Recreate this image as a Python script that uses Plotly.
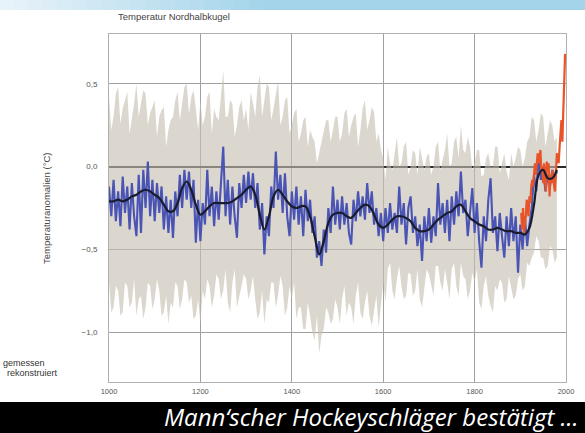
import plotly.graph_objects as go

# ---------------- data ----------------
blue_years = list(range(1000, 1981, 5))
blue_vals = [
    -0.12, -0.30, -0.08, -0.33, -0.15, -0.36, -0.06, -0.28, -0.12, -0.38, -0.10, -0.30, -0.42, -0.05, -0.40, -0.02, -0.25, 0.03, -0.30, -0.08,
    -0.33, -0.10, -0.28, -0.12, -0.38, -0.18, -0.40, -0.20, -0.43, -0.15, -0.30, -0.05, -0.25, -0.02, -0.20, -0.03, -0.25, -0.08, -0.46, -0.20,
    -0.45, -0.22, -0.35, -0.02, -0.30, -0.12, -0.36, -0.15, -0.32, -0.10, 0.12, -0.30, -0.08, -0.35, -0.12, -0.30, -0.43, -0.10, -0.25, -0.05,
    -0.22, -0.03, -0.20, -0.04, -0.25, -0.10, -0.38, -0.22, -0.53, -0.30, -0.42, -0.12, -0.25, 0.09, -0.20, -0.05, -0.28, -0.04, -0.30, -0.42,
    -0.15, -0.32, -0.12, -0.35, -0.18, -0.42, -0.14, -0.33, -0.20, -0.40, -0.30, -0.55, -0.45, -0.60, -0.38, -0.52, -0.25, -0.40, -0.12, -0.35,
    -0.20, -0.38, -0.18, -0.35, -0.22, -0.40, -0.47, -0.20, -0.33, -0.15, -0.30, -0.18, -0.32, -0.10, -0.28, -0.15, -0.35, -0.25, -0.42, -0.28,
    -0.45, -0.25, -0.40, -0.22, -0.38, -0.28, -0.40, -0.12, -0.35, -0.22, -0.47, -0.25, -0.18, -0.40, -0.30, -0.48, -0.35, -0.57, -0.30, -0.45,
    -0.25, -0.46, -0.30, -0.42, -0.10, -0.35, -0.22, -0.40, -0.20, -0.45, -0.18, -0.35, -0.15, -0.30, -0.03, -0.28, -0.20, -0.42, -0.25, -0.13,
    -0.40, -0.22, -0.45, -0.61, -0.30, -0.45, -0.20, -0.07, -0.40, -0.30, -0.51, -0.28, -0.42, -0.55, -0.30, -0.48, -0.25, -0.45, -0.30, -0.64,
    -0.35, -0.50, -0.30, -0.48, -0.35, -0.25, -0.05, -0.15, 0.05, -0.08, -0.02, -0.15, -0.05, -0.12, -0.02, -0.08, -0.03,
]

smooth_years = list(range(1000, 1981, 10))
smooth_vals = [
    -0.21, -0.21, -0.20, -0.21, -0.20, -0.18, -0.17, -0.15, -0.14, -0.15,
    -0.17, -0.19, -0.23, -0.27, -0.27, -0.22, -0.13, -0.09, -0.14, -0.23,
    -0.29, -0.27, -0.24, -0.22, -0.22, -0.22, -0.22, -0.21, -0.19, -0.17,
    -0.14, -0.12, -0.17, -0.29, -0.38, -0.30, -0.18, -0.14, -0.17, -0.21,
    -0.24, -0.25, -0.24, -0.24, -0.30, -0.42, -0.53, -0.45, -0.34, -0.29,
    -0.28, -0.28, -0.30, -0.31, -0.28, -0.25, -0.23, -0.24, -0.29, -0.35,
    -0.37, -0.35, -0.32, -0.30, -0.30, -0.31, -0.33, -0.37, -0.39, -0.39,
    -0.38, -0.35, -0.32, -0.30, -0.28, -0.27, -0.24, -0.23, -0.27, -0.31,
    -0.33, -0.35, -0.36, -0.38, -0.38, -0.37, -0.38, -0.39, -0.39, -0.40,
    -0.40, -0.41, -0.37, -0.23, -0.05, -0.02, -0.07, -0.07, -0.02,
]

band_years = list(range(1000, 1981, 5))
band_upper = [
    0.42, 0.22, 0.30, 0.44, 0.48, 0.26, 0.35, 0.40, 0.45, 0.20, 0.28, 0.38, 0.50, 0.30, 0.38, 0.46, 0.44, 0.25, 0.32, 0.36,
    0.40, 0.18, 0.30, 0.34, 0.36, 0.12, 0.22, 0.28, 0.30, 0.40, 0.45, 0.28, 0.38, 0.48, 0.50, 0.32, 0.42, 0.46, 0.35, 0.22,
    0.40, 0.25, 0.30, 0.42, 0.45, 0.20, 0.35, 0.30, 0.28, 0.45, 0.58, 0.30, 0.30, 0.40, 0.38, 0.18, 0.25, 0.36, 0.40, 0.28,
    0.35, 0.22, 0.45, 0.38, 0.30, 0.48, 0.55, 0.30, 0.40, 0.50, 0.48, 0.28, 0.35, 0.45, 0.52, 0.25, 0.30, 0.40, 0.42, 0.20,
    0.25, 0.32, 0.35, 0.15, 0.20, 0.28, 0.30, 0.12, 0.22, 0.18, 0.15, 0.02, 0.08, 0.15, 0.20, 0.28, 0.28, 0.15, 0.22, 0.30,
    0.30, 0.15, 0.20, 0.32, 0.35, 0.18, 0.25, 0.30, 0.32, 0.12, 0.22, 0.35, 0.40, 0.22, 0.28, 0.36, 0.33, 0.15, 0.20, 0.10,
    0.05, -0.08, 0.12, 0.02, -0.02, 0.10, 0.18, 0.00, 0.02, 0.12, 0.15, -0.05, 0.00, 0.10, 0.08, -0.05, 0.12, 0.05, -0.02, 0.06,
    0.08, -0.05, 0.00, 0.12, 0.15, -0.02, 0.05, 0.10, 0.20, 0.00, 0.02, 0.15, 0.18, 0.05, 0.25, 0.10, 0.08, 0.18, 0.12, -0.02,
    0.02, 0.10, 0.10, -0.06, -0.05, 0.05, 0.08, 0.00, 0.00, 0.12, 0.12, -0.04, 0.02, 0.08, -0.03, -0.08, 0.08, 0.00, 0.05, 0.12,
    0.10, 0.00, 0.05, 0.15, 0.18, 0.30, 0.28, 0.15, 0.22, 0.32, 0.30, 0.12, 0.20, 0.28, 0.25, 0.15, 0.18,
]
band_lower = [
    -0.70, -0.88, -0.85, -0.72, -0.75, -0.90, -0.88, -0.70, -0.72, -0.85, -0.82, -0.68, -0.90, -0.80, -0.78, -0.92, -0.85, -0.70, -0.72, -0.86,
    -0.80, -0.68, -0.75, -0.90, -0.88, -0.78, -0.95, -0.82, -0.85, -0.70, -0.72, -0.86, -0.80, -0.68, -0.70, -0.82, -0.78, -0.92, -0.90, -0.80,
    -0.95, -0.75, -0.80, -0.68, -0.72, -0.85, -0.78, -0.65, -0.68, -0.80, -0.75, -0.62, -0.82, -0.88, -0.70, -0.62, -0.85, -0.78, -0.72, -0.65,
    -0.68, -0.80, -0.75, -0.66, -0.80, -0.92, -0.88, -0.75, -0.95, -0.80, -0.82, -0.70, -0.70, -0.85, -0.78, -0.66, -0.72, -0.90, -0.85, -0.72,
    -0.80, -0.70, -0.92, -0.85, -0.85, -0.98, -0.98, -0.82, -0.90, -1.00, -1.05, -0.90, -1.13, -1.02, -0.98, -0.85, -0.88, -0.95, -0.92, -0.80,
    -0.85, -0.95, -0.80, -0.72, -0.90, -0.82, -0.85, -0.95, -0.78, -0.70, -0.88, -0.92, -0.82, -0.75, -0.90, -0.96, -0.86, -0.78, -0.97, -0.85,
    -0.70, -0.82, -0.62, -0.58, -0.75, -0.80, -0.68, -0.60, -0.72, -0.80, -0.78, -0.64, -0.65, -0.78, -0.75, -0.62, -0.80, -0.85, -0.72, -0.62,
    -0.65, -0.72, -0.78, -0.60, -0.60, -0.70, -0.75, -0.62, -0.70, -0.80, -0.62, -0.58, -0.72, -0.78, -0.58, -0.66, -0.68, -0.80, -0.75, -0.64,
    -0.70, -0.62, -0.82, -0.86, -0.72, -0.66, -0.78, -0.84, -0.88, -0.72, -0.75, -0.68, -0.70, -0.82, -0.80, -0.66, -0.72, -0.80, -0.78, -0.68,
    -0.65, -0.75, -0.72, -0.58, -0.60, -0.55, -0.52, -0.42, -0.45, -0.55, -0.55, -0.62, -0.60, -0.48, -0.50, -0.58, -0.55,
]

red_years = list(range(1902, 1999, 2))
red_vals = [
    -0.28, -0.38, -0.25, -0.40, -0.35, -0.30, -0.20, -0.28, -0.30, -0.18,
    -0.22, -0.12, -0.08, -0.12, -0.02, 0.02, -0.05, 0.05, 0.08, 0.02,
    0.05, 0.10, -0.02, 0.00, -0.10, 0.02, -0.08, -0.15, 0.03, -0.02,
    0.02, -0.18, -0.05, -0.10, -0.02, -0.08, -0.12, -0.15, 0.02, 0.08,
    0.05, 0.02, 0.12, 0.22, 0.28, 0.15, 0.30, 0.45, 0.68,
]

x_ticks = [1000, 1200, 1400, 1600, 1800, 2000]
x_tick_labels = ["1000", "1200", "1400", "1600", "1800", "2000"]
y_ticks = [0.5, 0.0, -0.5, -1.0]
y_tick_labels = ["0,5", "0,0", "\u22120,5", "\u22121,0"]

assert len(blue_vals) == len(blue_years)
assert len(band_upper) == len(band_years) and len(band_lower) == len(band_years)
assert len(smooth_vals) == len(smooth_years) and len(red_vals) == len(red_years)

# ---------------- figure ----------------
W, H = 585, 433
ML, MR, MT, MB = 109, 19, 34, 51
PW, PH = W - ML - MR, H - MT - MB


def px(xp):
    return (xp - ML) / PW


def py(yp):
    return (H - MB - yp) / PH


fig = go.Figure()

fig.add_trace(go.Scatter(
    x=band_years + band_years[::-1],
    y=band_upper + band_lower[::-1],
    fill="toself", fillcolor="rgba(198,190,176,0.62)",
    line=dict(width=0), mode="lines", hoverinfo="skip", showlegend=False,
))
fig.add_trace(go.Scatter(
    x=blue_years, y=blue_vals, mode="lines",
    line=dict(color="rgb(74,84,180)", width=2.1), showlegend=False,
))
fig.add_trace(go.Scatter(
    x=red_years, y=red_vals, mode="lines",
    line=dict(color="rgb(232,84,40)", width=2.2), showlegend=False,
))
fig.add_trace(go.Scatter(
    x=smooth_years, y=smooth_vals, mode="lines",
    line=dict(color="rgb(25,28,45)", width=2.2, shape="spline"), showlegend=False,
))

shapes = []
# top gradient band (decoration)
n = 40
for i in range(n):
    t = i / (n - 1)
    k = min(1.0, t * 2.2)
    r = int(232 - (232 - 164) * k)
    g = int(243 - (243 - 212) * k)
    b = int(249 - (249 - 234) * k)
    shapes.append(dict(type="rect", xref="paper", yref="paper",
                       x0=px(-2 + i * 590 / n), x1=px(-2 + (i + 1) * 590 / n + 1),
                       y0=py(10), y1=py(-2), line=dict(width=0),
                       fillcolor=f"rgb({r},{g},{b})", layer="above"))
# bottom black band
shapes.append(dict(type="rect", xref="paper", yref="paper",
                   x0=px(-2), x1=px(W + 2), y0=py(H + 2), y1=py(402),
                   line=dict(width=0), fillcolor="black", layer="above"))

annotations = [
    dict(text="Temperatur Nordhalbkugel", xref="paper", yref="paper",
         x=px(116), y=py(17), xanchor="left", yanchor="middle", showarrow=False,
         font=dict(family="Liberation Sans", size=9.5, color="#444")),
    dict(text="Temperaturanomalien (°C)", xref="paper", yref="paper",
         x=px(46), y=py(208), xanchor="center", yanchor="middle", showarrow=False,
         textangle=-90, font=dict(family="Liberation Sans", size=9.5, color="#444")),
    dict(text="gemessen", xref="paper", yref="paper",
         x=px(47), y=py(363), xanchor="right", yanchor="middle", showarrow=False,
         font=dict(family="Liberation Sans", size=9, color="#333")),
    dict(text="rekonstruiert", xref="paper", yref="paper",
         x=px(60), y=py(373), xanchor="right", yanchor="middle", showarrow=False,
         font=dict(family="Liberation Sans", size=9, color="#333")),
    dict(text="<i>Mann\u2018scher Hockeyschläger bestätigt ...</i>", xref="paper", yref="paper",
         x=px(581), y=py(416), xanchor="right", yanchor="middle", showarrow=False,
         font=dict(family="Open Sans", size=24, color="white")),
]

fig.update_layout(
    width=W, height=H,
    margin=dict(l=ML, r=MR, t=MT, b=MB),
    paper_bgcolor="white", plot_bgcolor="white",
    shapes=shapes, annotations=annotations, showlegend=False,
    xaxis=dict(range=[1000, 2000], tickvals=x_ticks, ticktext=x_tick_labels,
               showgrid=True, gridcolor="#a0a0a0", gridwidth=1,
               showline=True, mirror=True, linecolor="#b0b0b0", linewidth=1,
               zeroline=False, ticks="", ticklabelstandoff=2,
               tickfont=dict(family="Liberation Sans", size=7.5, color="#555")),
    yaxis=dict(range=[-1.30, 0.80], tickvals=y_ticks, ticktext=y_tick_labels,
               showgrid=True, gridcolor="#a0a0a0", gridwidth=1,
               showline=True, mirror=True, linecolor="#b0b0b0", linewidth=1,
               zeroline=True, zerolinecolor="#2a2a2a", zerolinewidth=1.5,
               ticks="", ticklabelstandoff=9,
               tickfont=dict(family="Liberation Sans", size=8, color="#555")),
)

fig.write_html("out.html", config={"displayModeBar": False},
               post_script="document.body.style.margin='0';document.body.style.padding='0';")
